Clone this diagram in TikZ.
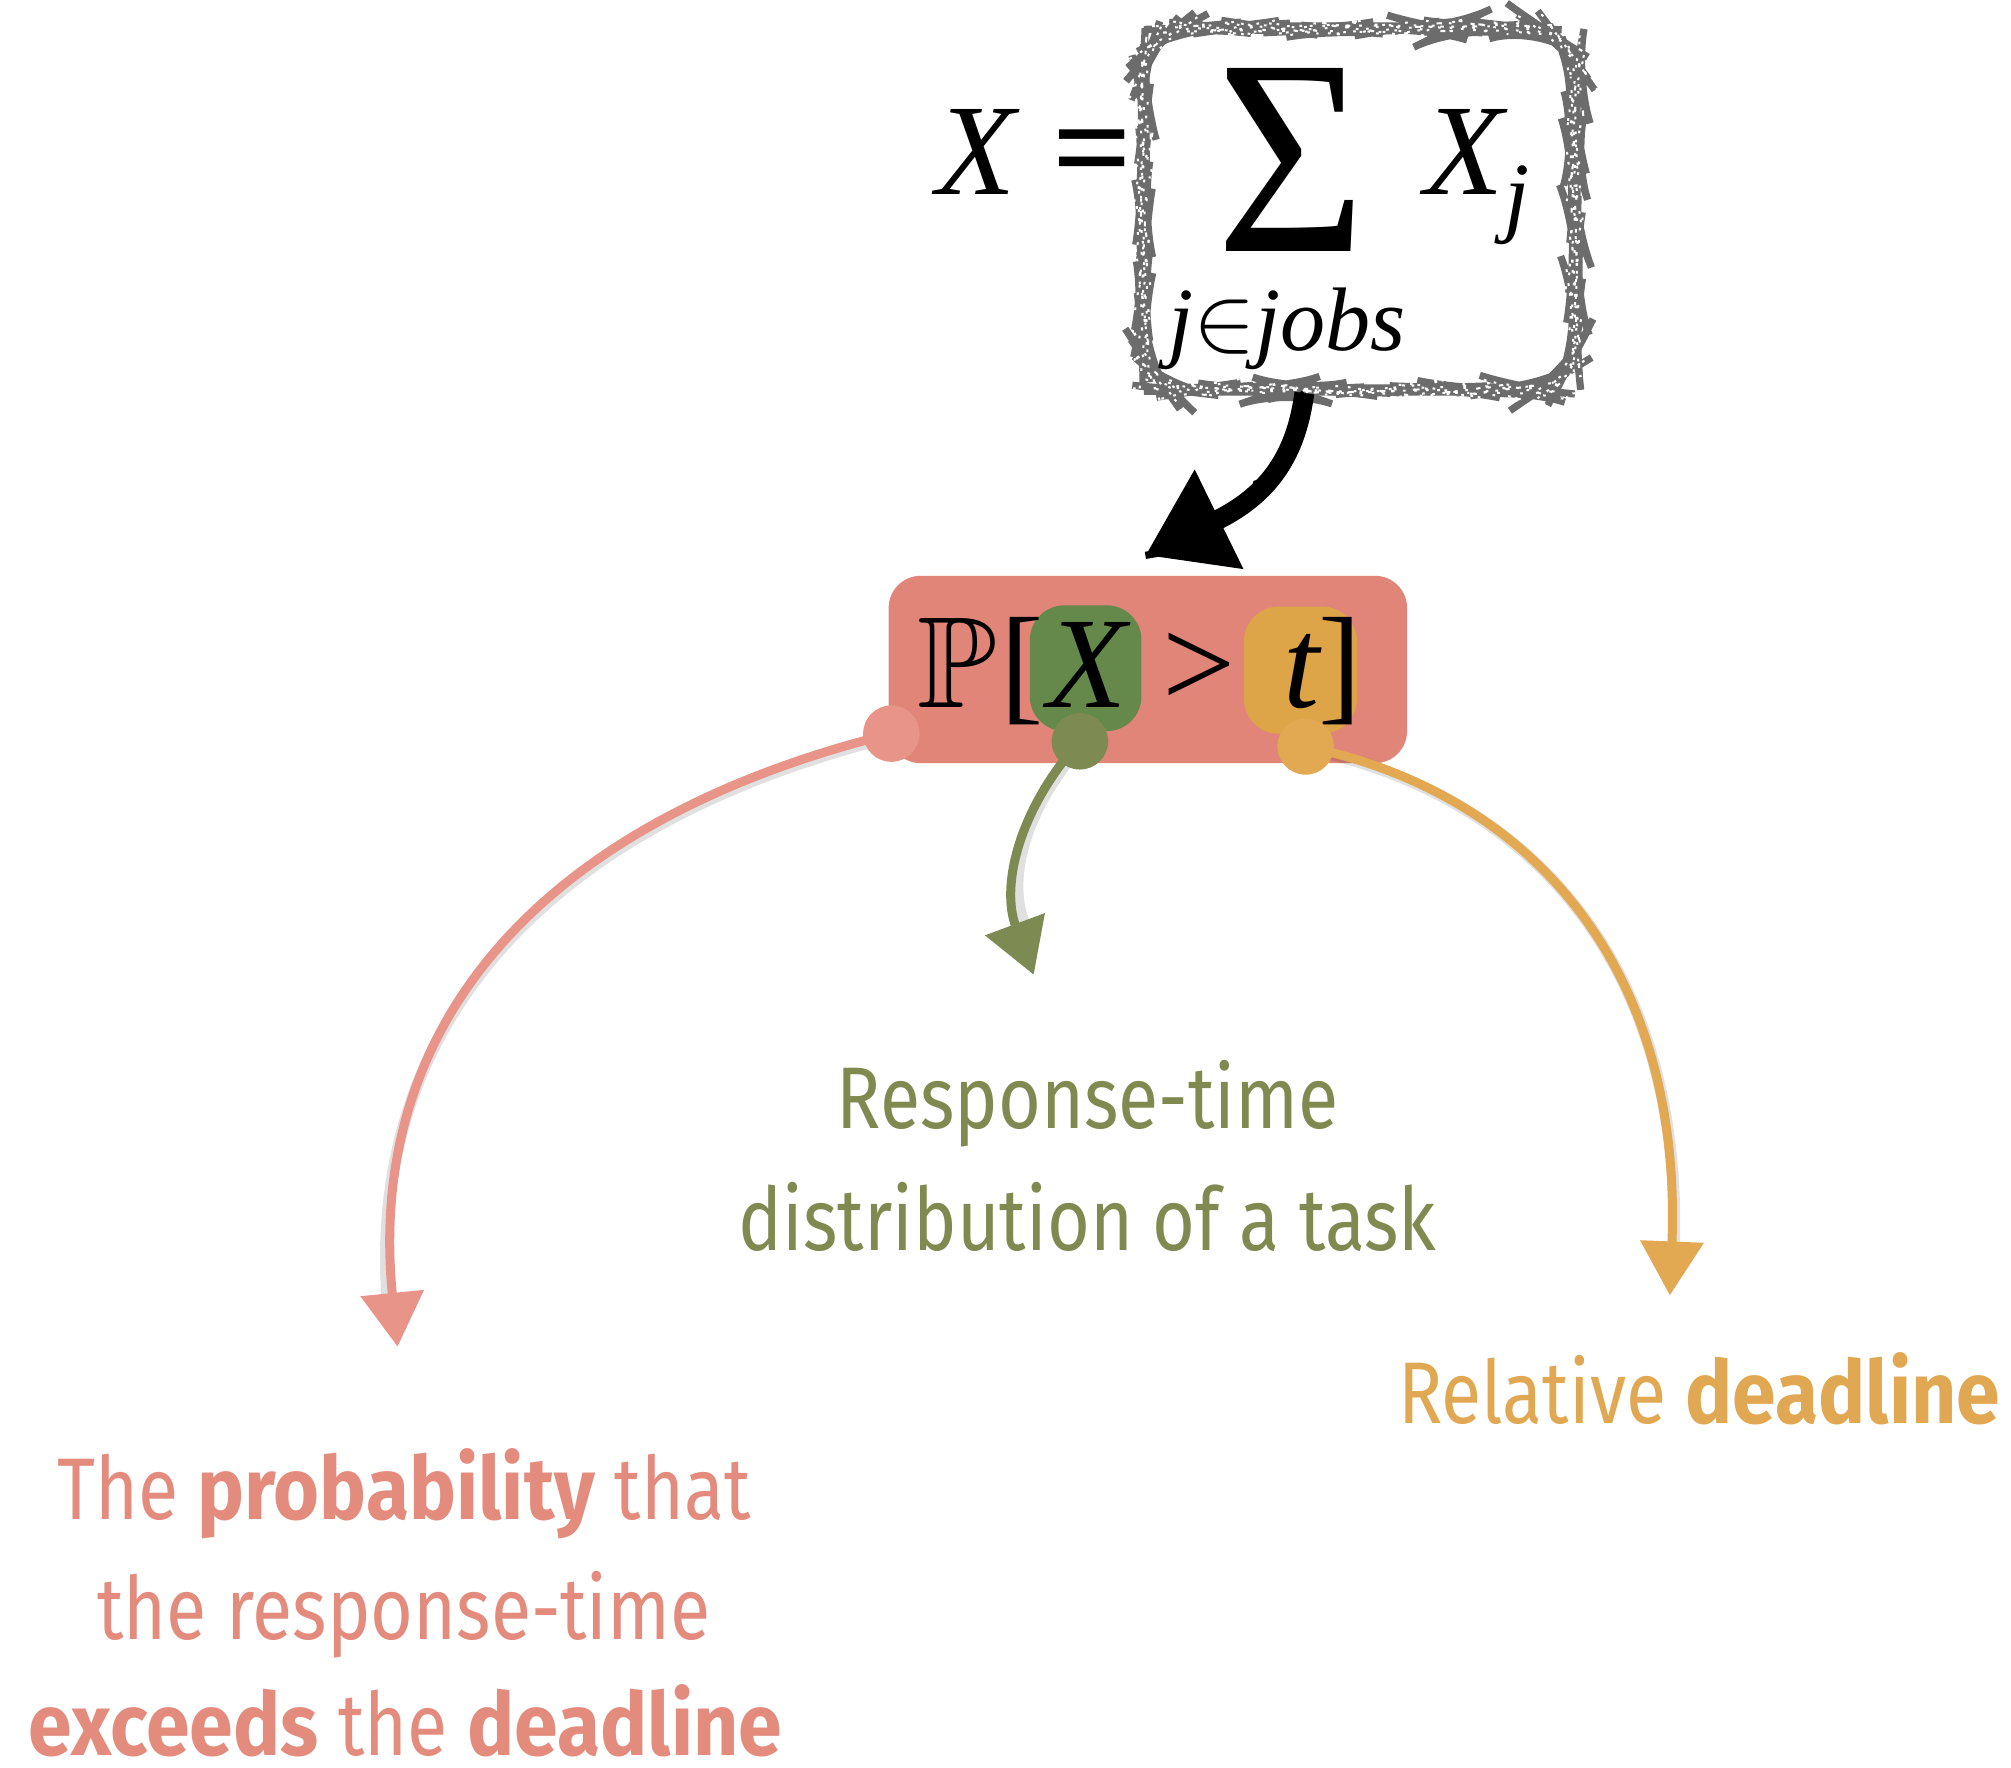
\documentclass[tikz,border=0pt]{standalone}
\usepackage{amssymb}
\usepackage{graphicx}
\usepackage{fontspec}
\setmainfont{Liberation Serif}
\newfontfamily\lab[FakeStretch=0.84, BoldFeatures={FakeStretch=0.9}]{Fira Sans}
\usetikzlibrary{arrows.meta,decorations.pathmorphing,calc}

\definecolor{boxred}{RGB}{224,133,120}
\definecolor{hlgreen}{RGB}{100,137,74}
\definecolor{hlorange}{RGB}{221,165,72}
\definecolor{lnred}{RGB}{232,148,136}
\definecolor{lngreen}{RGB}{125,139,82}
\definecolor{lnorange}{RGB}{226,168,82}
\definecolor{txred}{RGB}{227,140,126}
\definecolor{txgreen}{RGB}{128,138,80}
\definecolor{txorange}{RGB}{224,168,82}
\definecolor{boxgray}{RGB}{108,108,108}

\tikzset{
  mathbig/.style={inner sep=0, font=\fontsize{28.8}{30}\selectfont},
  mathsmall/.style={inner sep=0, font=\fontsize{20}{22}\selectfont},
  labtext/.style={inner sep=0, font=\lab\fontsize{19.4}{24}\selectfont},
  roughbox/.style={draw=boxgray, line width=2.5pt, rounded corners=0.38cm,
    postaction={draw=boxgray, line width=1.6pt, decorate,
      decoration={random steps, segment length=3pt, amplitude=0.6pt}},
    postaction={draw=white, line width=0.45pt, dash pattern=on 0.6pt off 4.5pt, decorate,
      decoration={random steps, segment length=3pt, amplitude=0.6pt}}},
  hlbox/.style={rounded corners=0.27cm, inner sep=0},
  dot/.style={circle, minimum size=0.44cm, inner sep=0},
  chalk/.style={line width=2pt, line cap=round},
  chalkshadow/.style={line width=2.6pt, line cap=round, draw=black, opacity=0.12,
    shift={(2,2)}},
  tipsmall/.style={-{Triangle[length=0.42cm,width=0.48cm]}},
}

\begin{document}
\begin{tikzpicture}[x=0.01cm, y=-0.01cm]
\useasboundingbox (0,0) rectangle (1568,1378);

% --- sum definition in a sketched frame ---
\node[roughbox, minimum width=3.36cm, minimum height=2.82cm] (sumbox) at (1060,163) {};
\node[mathbig, anchor=base] (lhs) at (761,152) {\itshape X};
\node[mathbig] (eq) at (852,126) {\scalebox{1.08}[1.05]{\bfseries =}};
\node[inner sep=0, text depth=0pt, font=\fontsize{62}{62}\selectfont] (sigma) at (1007,125) {\scalebox{0.92}[1]{Σ}};
\node[mathbig, anchor=base] (xj) at (1142,152) {\itshape X};
\node[mathsmall, anchor=base] (jsub) at (1183,176) {\itshape j};
\node[mathsmall, anchor=base west] (range) at (910,273) {\itshape j$\in$jobs};

% --- probability expression ---
\node[fill=boxred, rounded corners=0.25cm, minimum width=4.04cm, minimum height=1.46cm, inner sep=0] (probbox) at (895,522) {};
\node[hlbox, fill=hlgreen, minimum width=0.87cm, minimum height=0.98cm] (xhl) at (846.5,521) {};
\node[hlbox, fill=hlorange, minimum width=0.88cm, minimum height=0.99cm] (thl) at (1014,522.5) {};
\node[mathbig, anchor=base] (pp) at (746,552) {$\mathbb{P}$};
\node[mathbig, anchor=base] (lb) at (797,552) {[};
\node[mathbig, anchor=base] (px) at (848,552) {\itshape X};
\node[mathbig, anchor=base] (gt) at (935,552) {>};
\node[mathbig, anchor=base] (pt) at (1015,552) {\itshape t};
\node[mathbig, anchor=base] (rb) at (1045,552) {]};

% --- arrow from the sum to the expression ---
\coordinate (tipk) at (893,433);
\draw[black, line width=4.4pt, -{Triangle[length=0.64cm,width=0.82cm]},
  postaction={draw=black, line width=1.6pt, -, decorate,
    decoration={random steps, segment length=2.5pt, amplitude=1.4pt}}]
  ($(sumbox.south)+(-43,-2)$) .. controls (1010,360) and (985,388) .. (tipk);

% --- connector end points ---
\coordinate (tipr) at (310,1050);
\coordinate (tipg) at (806,760);
\coordinate (tipo) at (1302,1010);

% shadows of the connectors
\draw[chalkshadow] (695,572) .. controls (420,640) and (285,800) .. (300,1010);
\draw[chalkshadow] (842,578) .. controls (795,630) and (780,690) .. (800,725);
\draw[chalkshadow] (1018,582) .. controls (1200,620) and (1312,760) .. (1303,975);

\draw[chalk, draw=lnred, tipsmall] (695,572) .. controls (420,640) and (285,800) .. (tipr);
\draw[chalk, draw=lngreen, tipsmall] (842,578) .. controls (795,630) and (780,690) .. (tipg);
\draw[chalk, draw=lnorange, tipsmall] (1018,582) .. controls (1200,620) and (1312,760) .. (tipo);

% --- anchor dots ---
\node[dot, fill=lnred] (dr) at (695,572) {};
\node[dot, fill=lngreen] (dg) at (842,578) {};
\node[dot, fill=lnorange] (do) at (1018,582) {};

% --- labels ---
\node[labtext, text=txgreen, anchor=base] (g1) at (848,880) {Response-time};
\node[labtext, text=txgreen, anchor=base] (g2) at (848,975) {distribution of a task};
\node[labtext, text=txorange, anchor=base] (o1) at (1325,1110) {Relative \textbf{deadline}};
\node[labtext, text=txred, anchor=base] (r1) at (315,1185) {The \textbf{probability} that};
\node[labtext, text=txred, anchor=base] (r2) at (315,1278) {the response-time};
\node[labtext, text=txred, anchor=base, text depth=0pt] (r3) at (316,1369) {\textbf{exceeds} the \textbf{deadline}};
\end{tikzpicture}
\end{document}
